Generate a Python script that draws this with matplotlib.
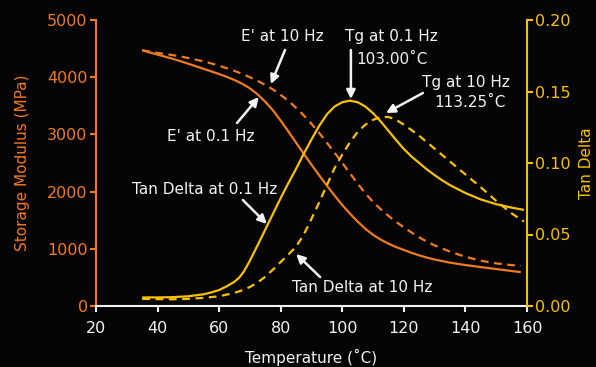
import matplotlib
matplotlib.use("Agg")
import matplotlib.pyplot as plt

# ---- data ----
temp_e = [35, 37.5, 40, 42.5, 45, 47.5, 50, 52.5, 55, 57.5, 60, 62.5, 65, 67.5, 70,
          72.5, 75, 77.5, 80, 82.5, 85, 87.5, 90, 92.5, 95, 97.5, 100, 102.5, 105,
          107.5, 110, 112.5, 115, 117.5, 120, 122.5, 125, 127.5, 130, 135, 140, 145,
          150, 155, 158]
e_01hz = [4470, 4432, 4395, 4358, 4320, 4278, 4235, 4190, 4145, 4100, 4055, 4005,
          3950, 3885, 3805, 3700, 3570, 3420, 3240, 3050, 2855, 2660, 2470, 2285,
          2105, 1930, 1765, 1615, 1475, 1350, 1245, 1160, 1090, 1030, 980, 930, 885,
          846, 812, 758, 716, 680, 646, 612, 592]
e_10hz = [4470, 4448, 4425, 4405, 4385, 4362, 4335, 4306, 4275, 4240, 4200, 4157,
          4110, 4058, 4000, 3935, 3865, 3785, 3690, 3585, 3465, 3330, 3185, 3025,
          2855, 2680, 2500, 2320, 2140, 1970, 1820, 1690, 1575, 1470, 1375, 1285,
          1200, 1125, 1060, 950, 860, 792, 745, 715, 702]

temp_t = [35, 40, 45, 50, 55, 57.5, 60, 62.5, 65, 66.5, 68, 69, 70, 72.5, 75, 77.5,
          80, 82.5, 85, 87.5, 90, 92.5, 95, 97.5, 100, 102.5, 105, 107.5, 110, 112.5,
          115, 117.5, 120, 122.5, 125, 127.5, 130, 132.5, 135, 140, 145, 150, 155, 159]
tan_01hz = [0.0060, 0.0060, 0.0062, 0.0068, 0.0082, 0.0095, 0.0112, 0.0138, 0.0170,
            0.0198, 0.0240, 0.0278, 0.0318, 0.0425, 0.0535, 0.0645, 0.0755, 0.0860,
            0.0960, 0.1065, 0.1165, 0.1260, 0.1340, 0.1395, 0.1425, 0.1436, 0.1425,
            0.1395, 0.1348, 0.1290, 0.1225, 0.1160, 0.1098, 0.1045, 0.1000, 0.0955,
            0.0915, 0.0878, 0.0845, 0.0790, 0.0745, 0.0712, 0.0688, 0.0672]

temp_t10 = [35, 40, 45, 50, 55, 60, 65, 67.5, 70, 72.5, 75, 77.5, 80, 82.5, 85, 87.5,
            90, 92.5, 95, 97.5, 100, 102.5, 105, 107.5, 110, 112.5, 115, 117.5, 120,
            122.5, 125, 127.5, 130, 135, 140, 145, 150, 155, 159]
tan_10hz = [0.0050, 0.0048, 0.0047, 0.0050, 0.0057, 0.0068, 0.0092, 0.0110, 0.0133,
            0.0165, 0.0205, 0.0255, 0.0308, 0.0360, 0.0415, 0.0500, 0.0610, 0.0725,
            0.0845, 0.0965, 0.1060, 0.1145, 0.1218, 0.1268, 0.1302, 0.1321, 0.1322,
            0.1302, 0.1268, 0.1230, 0.1190, 0.1145, 0.1100, 0.1010, 0.0920, 0.0830,
            0.0735, 0.0648, 0.0590]

x_ticks = [20, 40, 60, 80, 100, 120, 140, 160]
e_ticks = [0, 1000, 2000, 3000, 4000, 5000]
tan_ticks = [0.00, 0.05, 0.10, 0.15, 0.20]
tan_tick_labels = ["0.00", "0.05", "0.10", "0.15", "0.20"]

ORANGE = "#F07A1E"
YELLOW = "#F8C000"
BG = "#050505"
WHITE = "#F2F2F2"

plt.rcParams['font.family'] = ['DejaVu Sans']

fig = plt.figure(figsize=(5.96, 3.67), dpi=100, facecolor=BG)
ax = fig.add_axes([96 / 596, 1 - 306 / 367, (527 - 96) / 596, (306 - 20) / 367])
ax.set_facecolor(BG)
ax2 = ax.twinx()

lw = 1.6
ax.plot(temp_e, e_01hz, color=ORANGE, lw=lw, solid_capstyle='butt')
ax.plot(temp_e, e_10hz, color=ORANGE, lw=lw, dashes=(3.5, 2.5))
ax2.plot(temp_t, tan_01hz, color=YELLOW, lw=lw, solid_capstyle='butt')
ax2.plot(temp_t10, tan_10hz, color=YELLOW, lw=lw, dashes=(3.5, 2.5))

ax.set_xlim(20, 160)
ax.set_ylim(0, 5000)
ax2.set_ylim(0, 0.2)
ax.set_xticks(x_ticks)
ax.set_yticks(e_ticks)
ax2.set_yticks(tan_ticks)
ax2.set_yticklabels(tan_tick_labels)

fs = 11.5
for a in (ax, ax2):
    a.spines['top'].set_visible(False)
    for s in a.spines.values():
        s.set_linewidth(1.5)
ax.spines['left'].set_color(ORANGE)
ax.spines['bottom'].set_color(WHITE)
ax.spines['right'].set_visible(False)
ax2.spines['left'].set_visible(False)
ax2.spines['bottom'].set_visible(False)
ax2.spines['right'].set_color(YELLOW)

ax.tick_params(axis='x', colors=WHITE, labelsize=fs, direction='out', length=4, width=1.5, pad=7)
ax.tick_params(axis='y', colors=ORANGE, labelsize=fs, direction='out', length=4, width=1.5, pad=2)
ax2.tick_params(axis='y', colors=YELLOW, labelsize=fs, direction='out', length=4, width=1.5, pad=2)

ax.set_xlabel("Temperature (˚C)", color=WHITE, fontsize=11, labelpad=9)
ax.set_ylabel("Storage Modulus (MPa)", color=ORANGE, fontsize=11, labelpad=12)
ax2.set_ylabel("Tan Delta", color=YELLOW, fontsize=11, labelpad=6)

# ---- annotations ----
tfs = 11
def label(x, y, s, ha='center'):
    ax.text(x, y, s, color=WHITE, fontsize=tfs, ha=ha, va='center', zorder=5)

def arrow(tail, head):
    ax.annotate('', xy=head, xytext=tail,
                arrowprops=dict(arrowstyle='-|>', color=WHITE, lw=1.8,
                                mutation_scale=13, shrinkA=0, shrinkB=0),
                zorder=5)

label(80.4, 4720, "E' at 10 Hz")
arrow((81.4, 4476), (76.8, 3881))
label(57.4, 2955, "E' at 0.1 Hz")
arrow((65.8, 3199), (72.9, 3654))
label(115.8, 4703, "Tg at 0.1 Hz")
label(104.5, 4301, "103.00˚C", ha='left')
arrow((102.8, 4476), (102.8, 3619))
label(140.2, 3916, "Tg at 10 Hz")
label(141.5, 3549, "113.25˚C")
arrow((126.2, 3724), (114.2, 3374))
label(55.4, 2028, "Tan Delta at 0.1 Hz")
arrow((67.7, 1853), (75.5, 1434))
label(106.4, 332, "Tan Delta at 10 Hz")
arrow((92.8, 507), (85.0, 909))

fig.savefig("out.png", dpi=100, facecolor=BG)
